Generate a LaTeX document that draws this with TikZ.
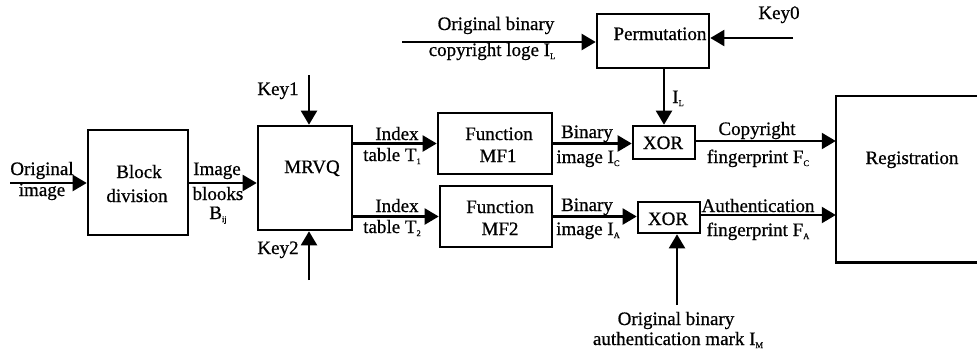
\documentclass[tikz,border=0pt]{standalone}
\usepackage{fontspec}
\setmainfont[FakeBold=0.7]{Liberation Serif}
\usetikzlibrary{arrows.meta}
\newcommand\sbs[1]{\raisebox{-0.35ex}{\fontsize{8.5}{8.5}\selectfont #1}}
\begin{document}
\begin{tikzpicture}[x=1pt,y=-1pt,
  box/.style={draw,line width=2.6pt,inner sep=0pt},
  conn/.style={line width=2.1pt,-{Triangle[length=14pt,width=16pt]}},
  txt/.style={anchor=base,inner sep=0pt,font=\fontsize{19}{22}\selectfont}]
\useasboundingbox (0,0) rectangle (977,354);
% boxes
\node[box,minimum width=100pt,minimum height=105pt] (blk) at (138,182.5) {};
\node[box,minimum width=94pt,minimum height=104pt] (mrvq) at (305,178) {};
\node[box,minimum width=114pt,minimum height=61pt] (mf1) at (495,143.5) {};
\node[box,minimum width=112pt,minimum height=61pt] (mf2) at (496,216.5) {};
\node[box,minimum width=62pt,minimum height=33pt] (xor1) at (664,142.5) {};
\node[box,minimum width=62pt,minimum height=31pt] (xor2) at (669,217.5) {};
\node[box,minimum width=112pt,minimum height=54pt] (perm) at (653,41) {};
\node[inner sep=0pt,minimum width=144pt,minimum height=166pt] (reg) at (908,179) {};
\draw[line width=2.6pt] (reg.north east) -- (reg.north west) -- (reg.south west) -- (reg.south east);
% box texts
\node[txt] (tblk1) at (139,178) {Block};
\node[txt] (tblk2) at (137,202) {division};
\node[txt] (tmrvq) at (312,173) {MRVQ};
\node[txt] (tmf1a) at (499,140) {Function};
\node[txt] (tmf1b) at (498,162) {MF1};
\node[txt] (tmf2a) at (500,213) {Function};
\node[txt] (tmf2b) at (500,235) {MF2};
\node[txt] (txor1) at (663,149) {XOR};
\node[txt] (txor2) at (668,225) {XOR};
\node[txt] (tperm) at (660,40) {Permutation};
\node[txt] (treg) at (912,164) {Registration};
% free ends
\coordinate (oi) at (10,183);
\coordinate (k1) at (309,75);
\coordinate (k2) at (309,280);
\coordinate (ob) at (402,42);
\coordinate (k0) at (793,38);
\coordinate (oa) at (677,305);
% connectors
\draw[conn] (oi) -- (oi -| blk.west);
\draw[conn] (blk.east |- oi) -- (oi -| mrvq.west);
\draw[conn] (k1) -- (k1 |- mrvq.north);
\draw[conn] (k2) -- (k2 |- mrvq.south);
\draw[conn] (mrvq.east |- mf1) -- (mf1.west);
\draw[conn] (mrvq.east |- mf2) -- (mf2.west);
\draw[conn] (mf1.east) -- (mf1.east -| xor1.west);
\draw[conn] (mf2.east) -- (mf2.east -| xor2.west);
\draw[conn] (xor1.east |- 0,141) -- (reg.west |- 0,141);
\draw[conn] (xor2.east |- 0,215) -- (reg.west |- 0,215);
\draw[conn] (ob) -- (ob -| perm.west);
\draw[conn] (k0) -- (k0 -| perm.east);
\draw[conn] (xor1.north |- perm.south) -- (xor1.north);
\draw[conn] (oa) -- (oa |- xor2.south);
% labels
\node[txt] (l1a) at (42,175) {Original};
\node[txt] (l1b) at (42,196) {image};
\node[txt] (l2a) at (217,175) {Image};
\node[txt] (l2b) at (218,200) {blooks};
\node[txt] (l2c) at (218,219) {B\sbs{ij}};
\node[txt] (lk1) at (278,95) {Key1};
\node[txt] (lk2) at (278,254) {Key2};
\node[txt] (l3a) at (397,140) {Index};
\node[txt] (l3b) at (392,161) {table T\sbs{1}};
\node[txt] (l4a) at (397,212) {Index};
\node[txt] (l4b) at (392,233) {table T\sbs{2}};
\node[txt] (l5a) at (587,138) {Binary};
\node[txt] (l5b) at (588,163) {image I\sbs{C}};
\node[txt] (l6a) at (587,211) {Binary};
\node[txt] (l6b) at (588,235) {image I\sbs{A}};
\node[txt] (l7a) at (757,135) {Copyright};
\node[txt] (l7b) at (758,163) {fingerprint F\sbs{C}};
\node[txt] (l8a) at (758,212) {Authentication};
\node[txt] (l8b) at (758,236) {fingerprint F\sbs{A}};
\node[txt] (l9a) at (496,30) {Original binary};
\node[txt] (l9b) at (492,56) {copyright loge I\sbs{L}};
\node[txt] (lil) at (678,103) {I\sbs{L}};
\node[txt] (lk0) at (779,19) {Key0};
\node[txt] (l10a) at (676,325) {Original binary};
\node[txt] (l10b) at (678,345) {authentication mark I\sbs{M}};
\end{tikzpicture}
\end{document}
